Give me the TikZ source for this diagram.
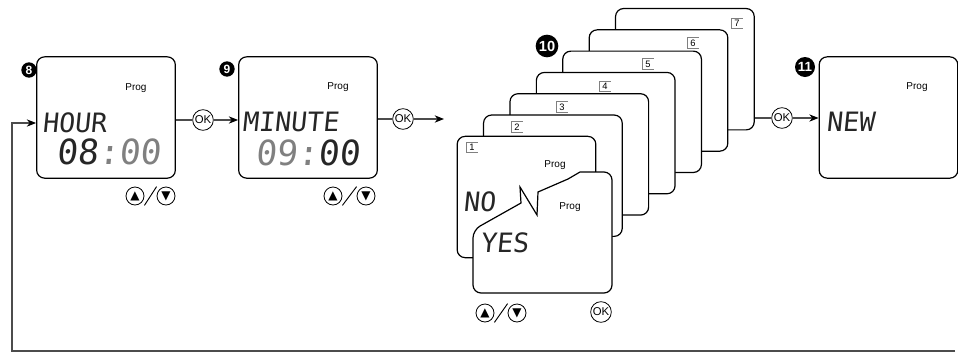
\documentclass[tikz,border=0pt]{standalone}
\usepackage{fontspec}
\setmainfont{Liberation Sans}
\newfontfamily\lcdfont[FakeSlant=0.1]{DejaVu Sans Mono}
\newfontfamily\symfont{DejaVu Sans}
\usetikzlibrary{arrows.meta}

\begin{document}
\begin{tikzpicture}[x=0.75pt, y=-0.75pt,
  screen/.style={draw, line width=0.9pt, rounded corners=6pt, fill=white, minimum width=104pt, minimum height=91pt, inner sep=0pt},
  wire/.style={draw=black!70, line width=0.8pt},
  stepno/.style={circle, fill=black, text=white, inner sep=0pt, font=\bfseries\fontsize{9}{9}\selectfont},
  prog/.style={font=\fontsize{7.5}{8}\selectfont, inner sep=0pt},
  lcd/.style={font=\lcdfont\fontsize{20}{20}\selectfont, text=black!85, anchor=west, inner sep=0pt},
  lcdbig/.style={font=\lcdfont\fontsize{26}{26}\selectfont, text=black!85, anchor=west, inner sep=0pt},
  okbtn/.style={circle, draw, line width=0.6pt, inner sep=0pt, minimum size=15.5pt, font=\fontsize{8.5}{8.5}\selectfont},
  keybtn/.style={circle, draw, line width=0.6pt, inner sep=0pt, minimum size=13.5pt, font=\symfont\fontsize{9}{9}\selectfont},
  tagno/.style={inner sep=1.2pt, minimum width=8pt, font=\fontsize{7}{7}\selectfont},
  >={Stealth[length=7pt, width=5.5pt, color=black]}
]
\useasboundingbox (0,0) rectangle (958,358);

% step 8
\node[stepno, minimum size=11.5pt] (n8) at (29,70) {8};
\node[screen] (s8) at (106,117.5) {};
\node[prog] (p8) at (136,88) {Prog};
\node[lcd] (t8) at (42,123) {HOUR};
\node[lcdbig] (d8) at (56,152) {08\textcolor{gray}{:00}};
\node[keybtn] (u8) at (135,196) {▲};
\node[keybtn] (w8) at (166,196) {▼};
\draw[line width=0.7pt] (u8.east |- u8.south) -- (w8.west |- w8.north);

% step 9
\node[stepno, minimum size=11.5pt] (n9) at (227,69) {9};
\node[screen] (s9) at (308,117.5) {};
\node[prog] (p9) at (338,87) {Prog};
\node[lcd] (t9) at (242,122) {MINUTE};
\node[lcdbig] (d9) at (255,153) {\textcolor{gray}{09:}00};
\node[keybtn] (u9) at (333,196) {▲};
\node[keybtn] (w9) at (366,196) {▼};
\draw[line width=0.7pt] (u9.east |- u9.south) -- (w9.west |- w9.north);

% step 10: stack of programs
\node[stepno, minimum size=17pt, font=\bfseries\fontsize{11}{11}\selectfont] (n10) at (547,46) {10};
\foreach \i in {7,...,1}
  \node[screen] (c\i) at ({526.5+(\i-1)*26.4},{197-(\i-1)*21.3}) {};
\foreach \i/\x/\y in {1/472/147, 2/517/127, 3/562/107, 4/605/86, 5/648/64, 6/693/43, 7/737/23} {
  \node[tagno] (g\i) at (\x,\y) {\i};
  \draw[gray, line width=0.6pt] (g\i.north east) -- (g\i.north west) -- (g\i.south west) -- (g\i.south east);
}
\node[prog] (p10) at (555,165) {Prog};
\node[lcd] (t10) at (463,202) {NO};
% torn YES card
\draw[line width=0.9pt, fill=white] (473,230) -- (521,203) -- (520,187) -- (537,215) -- (538,192) -- (568,179) -- (580,172)
  [rounded corners=6pt] -- (612,172) -- (612,293) -- (473,293) -- cycle;
\node[prog] (q10) at (570,207) {Prog};
\node[lcd] (y10) at (480,243) {YES};
\node[keybtn] (u10) at (485,313) {▲};
\node[keybtn] (w10) at (517,313) {▼};
\draw[line width=0.7pt] (u10.east |- u10.south) -- (w10.west |- w10.north);
\node[okbtn] (k10) at (601,312) {OK};

% step 11
\node[stepno, minimum size=15pt, font=\bfseries\fontsize{10}{10}\selectfont] (n11) at (805,67) {11};
\node[screen] (s11) at (888.5,117.5) {};
\node[prog] (p11) at (917,87) {Prog};
\node[lcd] (t11) at (826,122) {NEW};

% OK buttons and arrows
\node[okbtn] (ok1) at (203,120) {OK};
\node[okbtn] (ok2) at (403,119) {OK};
\node[okbtn] (ok3) at (782,118) {OK};
\coordinate (a10) at (444,119);
\draw[wire] (ok1 -| s8.east) -- (ok1);
\draw[wire, ->] (ok1) -- (ok1 -| s9.west);
\draw[wire] (ok2 -| s9.east) -- (ok2);
\draw[wire, ->] (ok2) -- (a10);
\draw[wire] (ok3 -| c7.east) -- (ok3);
\draw[wire, ->] (ok3) -- (ok3 -| s11.west);

% back to step 8
\coordinate (r0) at (955,351);
\coordinate (r1) at (12,351);
\draw[wire, ->] (r0) -- (r1) |- (s8.west |- t8.west);
\end{tikzpicture}
\end{document}
